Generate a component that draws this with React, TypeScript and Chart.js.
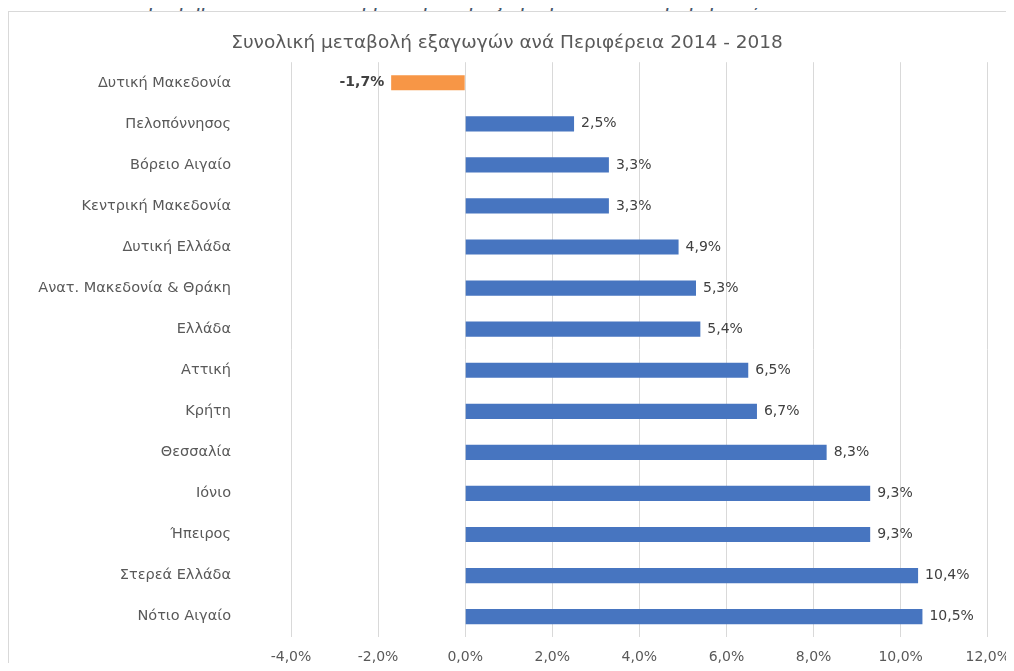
import React, { useEffect, useRef } from "react";
import { Chart, registerables } from "chart.js";

Chart.register(...registerables);

const categories = [
  "Δυτική Μακεδονία",
  "Πελοπόννησος",
  "Βόρειο Αιγαίο",
  "Κεντρική Μακεδονία",
  "Δυτική Ελλάδα",
  "Ανατ. Μακεδονία & Θράκη",
  "Ελλάδα",
  "Αττική",
  "Κρήτη",
  "Θεσσαλία",
  "Ιόνιο",
  "Ήπειρος",
  "Στερεά Ελλάδα",
  "Νότιο Αιγαίο",
];

const values = [-1.7, 2.5, 3.3, 3.3, 4.9, 5.3, 5.4, 6.5, 6.7, 8.3, 9.3, 9.3, 10.4, 10.5];

const xTicks = [-4, -2, 0, 2, 4, 6, 8, 10, 12];

const chartTitle = "Συνολική μεταβολή εξαγωγών ανά Περιφέρεια 2014 - 2018";
const figureCaption = "Γράφημα 18: Συνολική μεταβολή εξαγωγών ανά Περιφέρεια, 2014 - 2018";

const FONT = "'DejaVu Sans', sans-serif";
const fmt = (v: number) => v.toFixed(1).replace(".", ",") + "%";

const labelPlugin = {
  id: "valueLabels",
  afterDatasetsDraw(chart: any) {
    const ctx = chart.ctx;
    const meta = chart.getDatasetMeta(0);
    ctx.save();
    ctx.textBaseline = "middle";
    meta.data.forEach((bar: any, i: number) => {
      const v = values[i];
      ctx.fillStyle = "#404040";
      if (v < 0) {
        ctx.font = `bold 14px ${FONT}`;
        ctx.textAlign = "right";
        ctx.fillText(fmt(v), bar.x - 7, bar.y);
      } else {
        ctx.font = `14px ${FONT}`;
        ctx.textAlign = "left";
        ctx.fillText(fmt(v), bar.x + 7, bar.y);
      }
    });
    ctx.restore();
  },
};

export default function App() {
  const ref = useRef<HTMLCanvasElement>(null);

  useEffect(() => {
    if (!ref.current) return;
    const chart = new Chart(ref.current, {
      type: "bar",
      data: {
        labels: categories,
        datasets: [
          {
            data: values,
            backgroundColor: values.map((v) => (v < 0 ? "#F79646" : "#4775C0")),
            barPercentage: 0.37,
            categoryPercentage: 1,
          },
        ],
      },
      options: {
        indexAxis: "y",
        animation: false,
        responsive: true,
        maintainAspectRatio: false,
        layout: { padding: { left: 0, right: 0, top: 0, bottom: 1 } },
        plugins: {
          legend: { display: false },
          tooltip: { enabled: false },
          title: {
            display: true,
            text: chartTitle,
            color: "#595959",
            font: { family: FONT, size: 18.5, weight: "normal" },
            padding: { top: 32, bottom: 8 },
          },
        },
        scales: {
          x: {
            min: -4,
            max: 12,
            afterBuildTicks: (scale: any) => {
              scale.ticks = xTicks.map((v) => ({ value: v }));
            },
            grid: { color: "#D9D9D9", drawTicks: true, tickLength: 8, tickColor: "rgba(0,0,0,0)" },
            border: { display: false },
            ticks: {
              color: "#595959",
              font: { family: FONT, size: 14 },
              padding: 4,
              maxRotation: 0,
              callback: (v: any) => fmt(Number(v)),
            },
          },
          y: {
            afterFit: (scale: any) => {
              scale.width = 291;
            },
            grid: { display: false, drawTicks: true, tickLength: 54 },
            border: { display: false },
            ticks: {
              color: "#595959",
              font: { family: FONT, size: 14.5 },
              padding: 6,
            },
          },
        },
      },
      plugins: [labelPlugin],
    });
    return () => chart.destroy();
  }, []);

  return (
    <div
      style={{
        position: "relative",
        margin: -8,
        width: 1014,
        height: 671,
        overflow: "hidden",
        background: "#fff",
      }}
    >
      <div
        style={{
          position: "absolute",
          top: -11,
          left: 0,
          width: 1030,
          textAlign: "center",
          fontFamily: FONT,
          fontStyle: "italic",
          fontWeight: "normal",
          fontSize: 20.5,
          lineHeight: "normal",
          color: "#44546A",
          whiteSpace: "nowrap",
        }}
      >
        {figureCaption}
      </div>
      <div
        style={{
          position: "absolute",
          left: 8,
          top: 11,
          width: 1020,
          height: 680,
          borderLeft: "1px solid #D9D9D9",
          borderTop: "1px solid #D9D9D9",
          background: "#fff",
        }}
      />
      <div style={{ position: "absolute", left: 0, top: 0, width: 1014, height: 671 }}>
        <canvas ref={ref} />
      </div>
    </div>
  );
}
